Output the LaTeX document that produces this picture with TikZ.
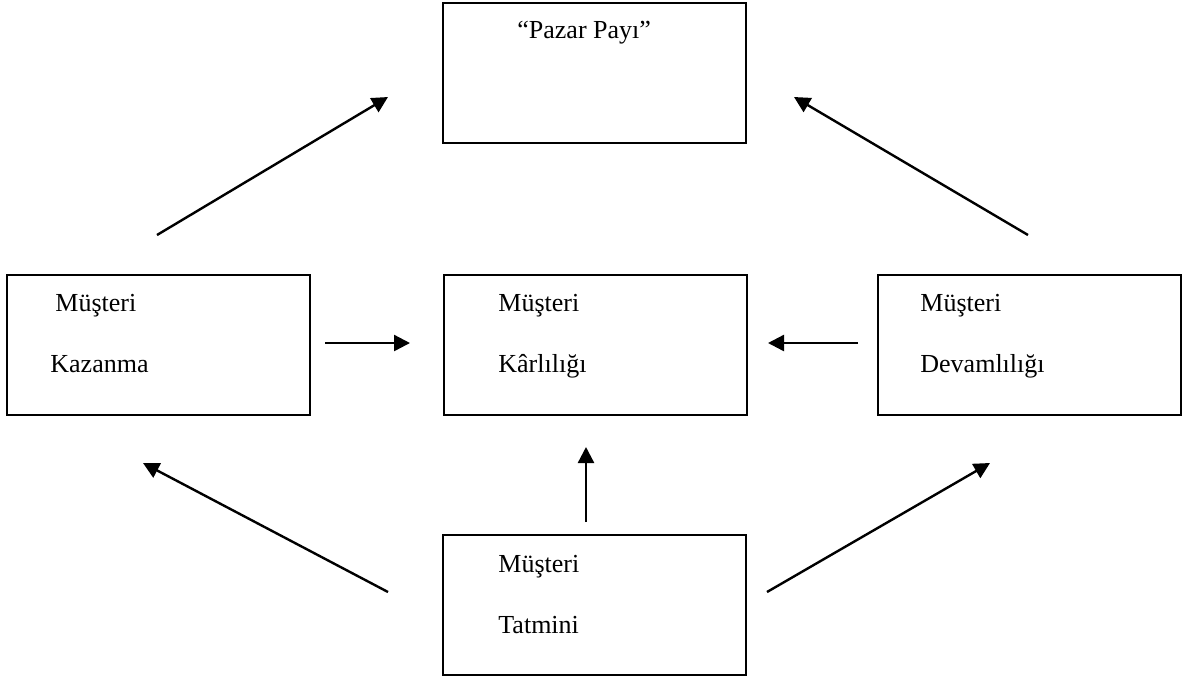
\documentclass[tikz,border=0pt]{standalone}
\usepackage{fontspec}
\setmainfont{Liberation Serif}
\usetikzlibrary{arrows.meta}

\begin{document}
\begin{tikzpicture}[
    x=0.5pt,
    y=-0.5pt,
    every node/.style={font=\fontsize{13}{15}\selectfont},
    box/.style={draw, line width=1pt, inner sep=0pt, outer sep=0pt, anchor=north west, minimum width=151.5pt, minimum height=70pt},
    txt/.style={anchor=base west, inner sep=0pt},
    arr/.style={-{Triangle[length=8pt, width=8pt]}, line width=1.2pt},
]
    \useasboundingbox (0,0) rectangle (1182,682);

    % boxes
    \node[box] (pazar) at (443,3) {};
    \node[box] (kazanma) at (7,275) {};
    \node[box] (karlilik) at (444,275) {};
    \node[box] (devamlilik) at (878,275) {};
    \node[box] (tatmin) at (443,535) {};

    % texts
    \node[txt] (pazar-t) at (517,38) {“Pazar Payı”};
    \node[txt] (kazanma-1) at (55,311) {Müşteri};
    \node[txt] (kazanma-2) at (50,372) {Kazanma};
    \node[txt] (karlilik-1) at (498,311) {Müşteri};
    \node[txt] (karlilik-2) at (498,372) {Kârlılığı};
    \node[txt] (devamlilik-1) at (920,311) {Müşteri};
    \node[txt] (devamlilik-2) at (920,372) {Devamlılığı};
    \node[txt] (tatmin-1) at (498,572) {Müşteri};
    \node[txt] (tatmin-2) at (498,633) {Tatmini};

    % arrow ends
    \coordinate (ka-s) at (157,235);
    \coordinate (ka-e) at (388,97);
    \coordinate (de-s) at (1028,235);
    \coordinate (de-e) at (794,97);
    \coordinate (kk-s) at (325,343);
    \coordinate (kk-e) at (410,343);
    \coordinate (dk-s) at (858,343);
    \coordinate (dk-e) at (768,343);
    \coordinate (tk-s) at (586,522);
    \coordinate (tk-e) at (586,447);
    \coordinate (tl-s) at (388,592);
    \coordinate (tl-e) at (143,463);
    \coordinate (tr-s) at (767,592);
    \coordinate (tr-e) at (990,463);

    \draw[arr] (ka-s) -- (ka-e);
    \draw[arr] (de-s) -- (de-e);
    \draw[arr] (kk-s) -- (kk-e);
    \draw[arr] (dk-s) -- (dk-e);
    \draw[arr] (tk-s) -- (tk-e);
    \draw[arr] (tl-s) -- (tl-e);
    \draw[arr] (tr-s) -- (tr-e);
\end{tikzpicture}
\end{document}
